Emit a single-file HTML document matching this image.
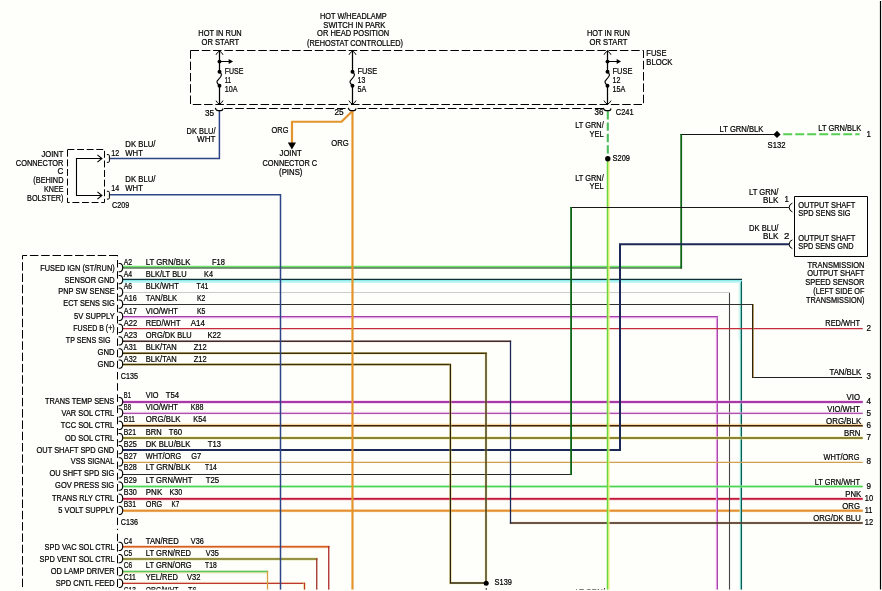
<!DOCTYPE html>
<html><head><meta charset="utf-8"><title>Wiring Diagram</title>
<style>
html,body{margin:0;padding:0;background:#fefefa;}
body{width:882px;height:591px;overflow:hidden;font-family:"Liberation Sans",sans-serif;}
svg{display:block;}
text{font-family:"Liberation Sans",sans-serif;}
</style></head>
<body>
<svg width="882" height="591" viewBox="0 0 882 591">
<rect x="0" y="0" width="882" height="591" fill="#fefefa"/>
<g id="wires" stroke-linecap="butt" stroke-linejoin="miter">
<path d="M122.5,498.9 H862.75" stroke="#f0a0b0" stroke-width="3.2" fill="none" opacity="0.5"/>
<path d="M122.5,498.9 H862.75" stroke="#c41838" stroke-width="1.9" fill="none"/>
<path d="M122.5,510.7 H862.75" stroke="#f8d090" stroke-width="3.2" fill="none" opacity="0.5"/>
<path d="M122.5,510.7 H862.75" stroke="#e49030" stroke-width="1.9" fill="none"/>
<path d="M716.4,316.6 V591" stroke="#f4a4f4" stroke-width="1.1" fill="none" />
<path d="M717.4,316.6 V591" stroke="#a044a4" stroke-width="1.1" fill="none" />
<path d="M729.5,292.5 V591" stroke="#444444" stroke-width="1.1" fill="none" />
<path d="M739.6,281 V340" stroke="#c4f6f2" stroke-width="2.0" fill="none" opacity="0.7"/>
<path d="M739.9,340 V591" stroke="#c4f6f2" stroke-width="1.2" fill="none" opacity="0.6"/>
<path d="M740.5,279.4 V591" stroke="#84d4cc" stroke-width="1.1" fill="none" />
<path d="M741.5,279.4 V591" stroke="#0c5c58" stroke-width="1.1" fill="none" />
<path d="M122.5,266.7 H682" stroke="#6fe46f" stroke-width="1.7" fill="none"/>
<path d="M122.5,268.0 H682" stroke="#0c3410" stroke-width="1.1" fill="none"/>
<path d="M122.5,281.6 H740.6" stroke="#c4f6f2" stroke-width="2.6" fill="none"/>
<path d="M122.5,280.5 H742" stroke="#8ceaea" stroke-width="1.6" fill="none"/>
<path d="M122.5,279.4 H742" stroke="#103038" stroke-width="1.1" fill="none"/>
<path d="M122.5,292.5 H730" stroke="#cccccc" stroke-width="1" fill="none"/>
<path d="M122.5,304.5 H753.4" stroke="#303030" stroke-width="1" fill="none"/>
<path d="M122.5,317.20000000000005 H718" stroke="#f0a0f0" stroke-width="2.4" fill="none" opacity="0.6"/>
<path d="M122.5,316.6 H718" stroke="#a440ac" stroke-width="1.2" fill="none"/>
<path d="M122.5,328.6 H862.75" stroke="#c42c3c" stroke-width="1.2" fill="none"/>
<path d="M122.5,341.25 H511.1" stroke="#f0c0a0" stroke-width="2.6" fill="none" opacity="0.4"/>
<path d="M122.5,341.25 H511.1" stroke="#3c2c30" stroke-width="1.3" fill="none"/>
<path d="M509.9,523 H862.75" stroke="#e8b070" stroke-width="2.6" fill="none" opacity="0.45"/>
<path d="M509.9,523 H862.75" stroke="#3c2820" stroke-width="1.4" fill="none"/>
<path d="M122.5,353.25 H486.8" stroke="#ecd868" stroke-width="2.7" fill="none" opacity="0.45"/>
<path d="M122.5,353.25 H486.8" stroke="#3c3008" stroke-width="1.3" fill="none"/>
<path d="M122.5,364.5 H451" stroke="#ecd868" stroke-width="2.7" fill="none" opacity="0.45"/>
<path d="M122.5,364.5 H451" stroke="#3c3008" stroke-width="1.3" fill="none"/>
<path d="M752.2,377.5 H862" stroke="#202020" stroke-width="1" fill="none"/>
<path d="M122.5,402 H862.75" stroke="#f4a8f4" stroke-width="3.6" fill="none" opacity="0.5"/>
<path d="M122.5,402 H862.75" stroke="#a43ca4" stroke-width="1.9" fill="none"/>
<path d="M122.5,413.09999999999997 H862.75" stroke="#f4b8f4" stroke-width="2.8" fill="none" opacity="0.5"/>
<path d="M122.5,413.4 H862.75" stroke="#ac54ac" stroke-width="1.2" fill="none"/>
<path d="M122.5,425.4 H862.75" stroke="#f4b860" stroke-width="3.2" fill="none" opacity="0.55"/>
<path d="M122.5,425.7 H862.75" stroke="#40240c" stroke-width="1.4" fill="none"/>
<path d="M122.5,438 H862.75" stroke="#ece890" stroke-width="3.4" fill="none" opacity="0.5"/>
<path d="M122.5,438 H862.75" stroke="#8c8434" stroke-width="1.8" fill="none"/>
<path d="M122.5,450 H620.9" stroke="#1c2858" stroke-width="1.9" fill="none"/>
<path d="M122.5,462.4 H862.75" stroke="#d0a050" stroke-width="1.1" fill="none"/>
<path d="M122.5,474.5 H572" stroke="#262626" stroke-width="1.0" fill="none"/>
<path d="M122.5,486.5 H862.75" stroke="#b4f0b4" stroke-width="3.2" fill="none" opacity="0.5"/>
<path d="M122.5,486.5 H862.75" stroke="#4cd454" stroke-width="1.7" fill="none"/>
<path d="M122.5,546.75 H329.4" stroke="#f0b080" stroke-width="3" fill="none" opacity="0.5"/>
<path d="M122.5,546.75 H329.4" stroke="#d85c20" stroke-width="1.6" fill="none"/>
<path d="M122.5,559 H317.4" stroke="#c8d070" stroke-width="3" fill="none" opacity="0.5"/>
<path d="M122.5,559 H317.4" stroke="#7c7420" stroke-width="1.6" fill="none"/>
<path d="M122.5,572.0 H268.1" stroke="#e8d890" stroke-width="3" fill="none" opacity="0.6"/>
<path d="M122.5,571.5 H268.1" stroke="#58c860" stroke-width="1.5" fill="none"/>
<path d="M122.5,583.0 H305.1" stroke="#f0e0a0" stroke-width="2.6" fill="none" opacity="0.5"/>
<path d="M122.5,583.4 H305.1" stroke="#c03434" stroke-width="1.2" fill="none"/>
<path d="M109.6,194.8 H280.5 V591" stroke="#2c4488" stroke-width="1.5" fill="none" />
<path d="M109.6,158.5 H219.4 V110.5" stroke="#2c4488" stroke-width="1.5" fill="none" />
<path d="M352.5,110.5 V591" stroke="#e4942c" stroke-width="2.2" fill="none" />
<path d="M352.5,111 L341.5,121.75 H292 V143" stroke="#e4942c" stroke-width="2.2" fill="none" stroke-linejoin="round"/>
<path d="M607.8,111 V155" stroke="#4cbc5c" stroke-width="2.1" fill="none" stroke-dasharray="8.4 3"/>
<path d="M608.9,161 V591" stroke="#f0f078" stroke-width="1.4" fill="none" />
<path d="M607.5,161 V591" stroke="#68d840" stroke-width="1.5" fill="none" />
<path d="M777,134.5 H680.4" stroke="#141414" stroke-width="1" fill="none" />
<path d="M681.2,134 V268.5" stroke="#0c6414" stroke-width="1.8" fill="none" />
<path d="M789,207.5 H570.3" stroke="#181818" stroke-width="1" fill="none" />
<path d="M571.1,207 V475" stroke="#0c6414" stroke-width="1.8" fill="none" />
<path d="M789,244.25 H620 V450.9" stroke="#1c2858" stroke-width="2" fill="none" />
<path d="M753.4,304.5 V377.5" stroke="#c8a050" stroke-width="1.0" fill="none" opacity="0.8"/>
<path d="M752.6,304 V378" stroke="#30240c" stroke-width="1.2" fill="none" />
<path d="M510.5,340.7 V523.6" stroke="#1c2858" stroke-width="1.3" fill="none" />
<path d="M486,352.7 V583" stroke="#ecd868" stroke-width="2.7" fill="none" opacity="0.45"/>
<path d="M450.4,364 V583 H486" stroke="#ecd868" stroke-width="2.7" fill="none" opacity="0.45"/>
<path d="M486,352.7 V583" stroke="#2c2408" stroke-width="1.3" fill="none" />
<path d="M486.3,588.3 V591" stroke="#181818" stroke-width="1.3" fill="none" />
<path d="M450.4,364 V583 H486" stroke="#2c2408" stroke-width="1.3" fill="none" />
<path d="M328.75,546 V591" stroke="#b02828" stroke-width="1.3" fill="none" />
<path d="M316.75,558.3 V591" stroke="#a03028" stroke-width="1.3" fill="none" />
<path d="M267.5,570.8 V591" stroke="#d8a040" stroke-width="1.3" fill="none" />
<path d="M304.5,582.8 V591" stroke="#f4ec70" stroke-width="2.6" fill="none" opacity="0.6"/>
<path d="M304.5,582.8 V591" stroke="#c03030" stroke-width="1.2" fill="none" />
<path d="M783.2,134.3 H859.6" stroke="#54d054" stroke-width="2.1" fill="none" stroke-dasharray="9 3"/>
</g>
<g id="art" stroke="#000" stroke-width="1" fill="none">
<path d="M190.5,50.5 H643.5 V104.5 H190.5 Z" stroke-dasharray="8.5 2.8"/>
<path d="M224,108.5 H347.5 M357.5,108.5 H603" stroke-dasharray="8.5 2.8"/>
<path d="M215.3,107.8 Q216.1,110.6 218.1,110.6 H221.1 Q222.5,110.6 223.1,108.5" stroke-width="1.15"/>
<path d="M348.3,107.8 Q349.1,110.6 351.1,110.6 H354.1 Q355.5,110.6 356.1,108.5" stroke-width="1.15"/>
<path d="M603.3,107.8 Q604.1,110.6 606.1,110.6 H609.1 Q610.5,110.6 611.1,108.5" stroke-width="1.15"/>
<path d="M219.5,50.5 V72 M219.5,86 V104.5" stroke-width="1.25"/>
<path d="M216.0,54.8 Q217.1,52.2 219.5,51 Q221.9,52.2 223.0,54.8"/>
<path d="M216.0,100.6 Q217.1,103 219.5,104.2 Q221.9,103 223.0,100.6"/>
<path d="M219.5,72 C221.9,73.4 221.8,75.4 220.5,77 L217.3,80.8 C216.3,82.4 217.9,84.2 219.5,85.6" stroke-width="1.15"/>
<circle cx="219.5" cy="71.8" r="1.95" fill="#000" stroke="none"/>
<circle cx="219.5" cy="85.8" r="1.95" fill="#000" stroke="none"/>
<circle cx="219.5" cy="61.6" r="1.95" fill="#000" stroke="none"/>
<path d="M219.5,61.5 H229.5"/>
<path d="M228.7,59 L233.1,61.5 L228.7,64 Z" fill="#000" stroke="none"/>
<path d="M352.5,50.5 V72 M352.5,86 V104.5" stroke-width="1.25"/>
<path d="M349.0,54.8 Q350.1,52.2 352.5,51 Q354.9,52.2 356.0,54.8"/>
<path d="M349.0,100.6 Q350.1,103 352.5,104.2 Q354.9,103 356.0,100.6"/>
<path d="M352.5,72 C354.9,73.4 354.8,75.4 353.5,77 L350.3,80.8 C349.3,82.4 350.9,84.2 352.5,85.6" stroke-width="1.15"/>
<circle cx="352.5" cy="71.8" r="1.95" fill="#000" stroke="none"/>
<circle cx="352.5" cy="85.8" r="1.95" fill="#000" stroke="none"/>
<path d="M607.5,50.5 V72 M607.5,86 V104.5" stroke-width="1.25"/>
<path d="M604.0,54.8 Q605.1,52.2 607.5,51 Q609.9,52.2 611.0,54.8"/>
<path d="M604.0,100.6 Q605.1,103 607.5,104.2 Q609.9,103 611.0,100.6"/>
<path d="M607.5,72 C609.9,73.4 609.8,75.4 608.5,77 L605.3,80.8 C604.3,82.4 605.9,84.2 607.5,85.6" stroke-width="1.15"/>
<circle cx="607.5" cy="71.8" r="1.95" fill="#000" stroke="none"/>
<circle cx="607.5" cy="85.8" r="1.95" fill="#000" stroke="none"/>
<circle cx="607.5" cy="61.6" r="1.95" fill="#000" stroke="none"/>
<path d="M607.5,61.5 H617.5"/>
<path d="M616.7,59 L621.1,61.5 L616.7,64 Z" fill="#000" stroke="none"/>
<path d="M287.8,142.5 H296 L291.9,149.5 Z" fill="#000" stroke="none"/>
<circle cx="607.8" cy="158.8" r="2.7" fill="#000" stroke="none"/>
<circle cx="486.2" cy="583.3" r="2.5" fill="#000" stroke="none"/>
<path d="M777,130.8 L780.6,134.4 L777,138 L773.4,134.4 Z" fill="#000" stroke="none"/>
<path d="M67.5,149.5 H104.5 V202.5 H67.5 Z" stroke-dasharray="6.9 2.7"/>
<path d="M101.8,158.5 H76.5 V195.5 H101.8" stroke-width="1.1"/>
<path d="M97.4,154.9 L101.9,158.5 L97.4,162.1 M97.4,191.9 L101.9,195.5 L97.4,199.1" stroke-width="1.1"/>
<path d="M106.9,154.6 H108.2 Q109.4,154.6 109.4,155.8 V161.2 Q109.4,162.4 108.2,162.4 H106.9"/>
<path d="M106.9,191.29999999999998 H108.2 Q109.4,191.29999999999998 109.4,192.5 V197.89999999999998 Q109.4,199.1 108.2,199.1 H106.9"/>
<path d="M794.5,196.5 H867.5 V256.5 H794.5 Z"/>
<path d="M792.4,203.1 Q789.2,204.1 789.2,207.5 Q789.2,210.9 792.4,211.9"/>
<path d="M792.4,239.85 Q789.2,240.85 789.2,244.25 Q789.2,247.65 792.4,248.65"/>
<path d="M117.5,255.5 H22.5 V591" stroke-dasharray="8.5 2.8"/>
<path d="M117.5,248.8 V530" stroke-dasharray="7.5 3.7"/>
<path d="M117.5,533.75 V541.25 M117.5,543.9 V551.6 M117.5,555.5 V563.3 M117.5,567.2 V575.3 M117.5,579.2 V587 M117.5,590.3 V591"/>
<rect x="116" y="248" width="3" height="7" fill="#fefefa" stroke="none"/>
<path d="M118.6,263.5 H120.2 Q122.7,264.0 122.7,267.6 Q122.7,271.20000000000005 120.2,271.70000000000005 H118.6" stroke-width="1.1"/>
<path d="M118.6,275.5 H120.2 Q122.7,276.0 122.7,279.6 Q122.7,283.20000000000005 120.2,283.70000000000005 H118.6" stroke-width="1.1"/>
<path d="M118.6,288.0 H120.2 Q122.7,288.5 122.7,292.1 Q122.7,295.70000000000005 120.2,296.20000000000005 H118.6" stroke-width="1.1"/>
<path d="M118.6,300.0 H120.2 Q122.7,300.5 122.7,304.1 Q122.7,307.70000000000005 120.2,308.20000000000005 H118.6" stroke-width="1.1"/>
<path d="M118.6,312.25 H120.2 Q122.7,312.75 122.7,316.35 Q122.7,319.95000000000005 120.2,320.45000000000005 H118.6" stroke-width="1.1"/>
<path d="M118.6,324.25 H120.2 Q122.7,324.75 122.7,328.35 Q122.7,331.95000000000005 120.2,332.45000000000005 H118.6" stroke-width="1.1"/>
<path d="M118.6,336.75 H120.2 Q122.7,337.25 122.7,340.85 Q122.7,344.45000000000005 120.2,344.95000000000005 H118.6" stroke-width="1.1"/>
<path d="M118.6,348.75 H120.2 Q122.7,349.25 122.7,352.85 Q122.7,356.45000000000005 120.2,356.95000000000005 H118.6" stroke-width="1.1"/>
<path d="M118.6,360.0 H120.2 Q122.7,360.5 122.7,364.1 Q122.7,367.70000000000005 120.2,368.20000000000005 H118.6" stroke-width="1.1"/>
<path d="M118.6,397.5 H120.2 Q122.7,398.0 122.7,401.6 Q122.7,405.20000000000005 120.2,405.70000000000005 H118.6" stroke-width="1.1"/>
<path d="M118.6,408.75 H120.2 Q122.7,409.25 122.7,412.85 Q122.7,416.45000000000005 120.2,416.95000000000005 H118.6" stroke-width="1.1"/>
<path d="M118.6,421.25 H120.2 Q122.7,421.75 122.7,425.35 Q122.7,428.95000000000005 120.2,429.45000000000005 H118.6" stroke-width="1.1"/>
<path d="M118.6,433.5 H120.2 Q122.7,434.0 122.7,437.6 Q122.7,441.20000000000005 120.2,441.70000000000005 H118.6" stroke-width="1.1"/>
<path d="M118.6,445.5 H120.2 Q122.7,446.0 122.7,449.6 Q122.7,453.20000000000005 120.2,453.70000000000005 H118.6" stroke-width="1.1"/>
<path d="M118.6,457.75 H120.2 Q122.7,458.25 122.7,461.85 Q122.7,465.45000000000005 120.2,465.95000000000005 H118.6" stroke-width="1.1"/>
<path d="M118.6,469.75 H120.2 Q122.7,470.25 122.7,473.85 Q122.7,477.45000000000005 120.2,477.95000000000005 H118.6" stroke-width="1.1"/>
<path d="M118.6,482.0 H120.2 Q122.7,482.5 122.7,486.1 Q122.7,489.70000000000005 120.2,490.20000000000005 H118.6" stroke-width="1.1"/>
<path d="M118.6,494.25 H120.2 Q122.7,494.75 122.7,498.35 Q122.7,501.95000000000005 120.2,502.45000000000005 H118.6" stroke-width="1.1"/>
<path d="M118.6,506.25 H120.2 Q122.7,506.75 122.7,510.35 Q122.7,513.95 120.2,514.45 H118.6" stroke-width="1.1"/>
<path d="M118.6,542.25 H120.2 Q122.7,542.75 122.7,546.35 Q122.7,549.95 120.2,550.45 H118.6" stroke-width="1.1"/>
<path d="M118.6,554.5 H120.2 Q122.7,555.0 122.7,558.6 Q122.7,562.2 120.2,562.7 H118.6" stroke-width="1.1"/>
<path d="M118.6,567.5 H120.2 Q122.7,568.0 122.7,571.6 Q122.7,575.2 120.2,575.7 H118.6" stroke-width="1.1"/>
<path d="M118.6,579.25 H120.2 Q122.7,579.75 122.7,583.35 Q122.7,586.95 120.2,587.45 H118.6" stroke-width="1.1"/>
</g>
<g id="txt" font-family="'Liberation Sans', sans-serif" fill="#000" stroke="#000" stroke-width="0.22" style="filter:grayscale(1)">
<text x="198.30" y="35.75" textLength="43.40" lengthAdjust="spacingAndGlyphs" font-size="8.3" >HOT IN RUN</text>
<text x="201.55" y="44.50" textLength="37.65" lengthAdjust="spacingAndGlyphs" font-size="8.3" >OR START</text>
<text x="320.05" y="18.75" textLength="66.65" lengthAdjust="spacingAndGlyphs" font-size="8.3" >HOT W/HEADLAMP</text>
<text x="323.30" y="27.50" textLength="62.15" lengthAdjust="spacingAndGlyphs" font-size="8.3" >SWITCH IN PARK</text>
<text x="317.05" y="36.25" textLength="72.15" lengthAdjust="spacingAndGlyphs" font-size="8.3" >OR HEAD POSITION</text>
<text x="307.05" y="46.25" textLength="95.90" lengthAdjust="spacingAndGlyphs" font-size="8.3" >(REHOSTAT CONTROLLED)</text>
<text x="587.05" y="35.75" textLength="42.90" lengthAdjust="spacingAndGlyphs" font-size="8.3" >HOT IN RUN</text>
<text x="589.55" y="44.50" textLength="37.90" lengthAdjust="spacingAndGlyphs" font-size="8.3" >OR START</text>
<text x="646.30" y="55.50" textLength="20.15" lengthAdjust="spacingAndGlyphs" font-size="8.3" >FUSE</text>
<text x="646.30" y="64.50" textLength="26.15" lengthAdjust="spacingAndGlyphs" font-size="8.3" >BLOCK</text>
<text x="224.75" y="73.75" textLength="18.70" lengthAdjust="spacingAndGlyphs" font-size="8.3" >FUSE</text>
<text x="224.85" y="82.75" textLength="6.20" lengthAdjust="spacingAndGlyphs" font-size="8.3" >11</text>
<text x="224.85" y="91.75" textLength="12.80" lengthAdjust="spacingAndGlyphs" font-size="8.3" >10A</text>
<text x="357.55" y="73.75" textLength="19.65" lengthAdjust="spacingAndGlyphs" font-size="8.3" >FUSE</text>
<text x="357.55" y="82.75" textLength="7.70" lengthAdjust="spacingAndGlyphs" font-size="8.3" >13</text>
<text x="357.55" y="91.75" textLength="8.70" lengthAdjust="spacingAndGlyphs" font-size="8.3" >5A</text>
<text x="612.55" y="73.75" textLength="19.90" lengthAdjust="spacingAndGlyphs" font-size="8.3" >FUSE</text>
<text x="612.55" y="82.75" textLength="7.90" lengthAdjust="spacingAndGlyphs" font-size="8.3" >12</text>
<text x="612.55" y="91.75" textLength="12.90" lengthAdjust="spacingAndGlyphs" font-size="8.3" >15A</text>
<text x="205.05" y="115.50" textLength="9.15" lengthAdjust="spacingAndGlyphs" font-size="8.3" >35</text>
<text x="334.55" y="115.00" textLength="9.15" lengthAdjust="spacingAndGlyphs" font-size="8.3" >25</text>
<text x="594.55" y="115.00" textLength="8.90" lengthAdjust="spacingAndGlyphs" font-size="8.3" >36</text>
<text x="615.80" y="114.50" textLength="17.90" lengthAdjust="spacingAndGlyphs" font-size="8.3" >C241</text>
<text x="186.55" y="133.75" textLength="28.90" lengthAdjust="spacingAndGlyphs" font-size="8.3" >DK BLU/</text>
<text x="197.05" y="142.00" textLength="18.40" lengthAdjust="spacingAndGlyphs" font-size="8.3" >WHT</text>
<text x="271.55" y="133.25" textLength="16.90" lengthAdjust="spacingAndGlyphs" font-size="8.3" >ORG</text>
<text x="331.30" y="145.50" textLength="17.40" lengthAdjust="spacingAndGlyphs" font-size="8.3" >ORG</text>
<text x="279.55" y="156.25" textLength="22.15" lengthAdjust="spacingAndGlyphs" font-size="8.3" >JOINT</text>
<text x="262.55" y="165.50" textLength="54.65" lengthAdjust="spacingAndGlyphs" font-size="8.3" >CONNECTOR C</text>
<text x="279.05" y="174.50" textLength="23.40" lengthAdjust="spacingAndGlyphs" font-size="8.3" >(PINS)</text>
<text x="575.30" y="128.00" textLength="28.40" lengthAdjust="spacingAndGlyphs" font-size="8.3" >LT GRN/</text>
<text x="589.55" y="136.75" textLength="14.15" lengthAdjust="spacingAndGlyphs" font-size="8.3" >YEL</text>
<text x="612.55" y="161.25" textLength="17.40" lengthAdjust="spacingAndGlyphs" font-size="8.3" >S209</text>
<text x="575.30" y="180.50" textLength="28.40" lengthAdjust="spacingAndGlyphs" font-size="8.3" >LT GRN/</text>
<text x="589.55" y="189.25" textLength="14.15" lengthAdjust="spacingAndGlyphs" font-size="8.3" >YEL</text>
<text x="719.55" y="131.75" textLength="43.90" lengthAdjust="spacingAndGlyphs" font-size="8.3" >LT GRN/BLK</text>
<text x="818.30" y="131.25" textLength="42.90" lengthAdjust="spacingAndGlyphs" font-size="8.3" >LT GRN/BLK</text>
<text x="767.55" y="148.00" textLength="17.90" lengthAdjust="spacingAndGlyphs" font-size="8.3" >S132</text>
<text x="866.55" y="137.00" textLength="4.40" lengthAdjust="spacingAndGlyphs" font-size="8.3" >1</text>
<text x="749.05" y="194.50" textLength="29.40" lengthAdjust="spacingAndGlyphs" font-size="8.3" >LT GRN/</text>
<text x="763.05" y="202.50" textLength="15.40" lengthAdjust="spacingAndGlyphs" font-size="8.3" >BLK</text>
<text x="784.55" y="202.00" textLength="4.40" lengthAdjust="spacingAndGlyphs" font-size="8.3" >1</text>
<text x="749.05" y="230.50" textLength="29.40" lengthAdjust="spacingAndGlyphs" font-size="8.3" >DK BLU/</text>
<text x="763.05" y="239.00" textLength="15.40" lengthAdjust="spacingAndGlyphs" font-size="8.3" >BLK</text>
<text x="784.05" y="238.50" textLength="5.40" lengthAdjust="spacingAndGlyphs" font-size="8.3" >2</text>
<text x="798.30" y="207.50" textLength="57.15" lengthAdjust="spacingAndGlyphs" font-size="8.3" >OUTPUT SHAFT</text>
<text x="798.30" y="215.50" textLength="52.15" lengthAdjust="spacingAndGlyphs" font-size="8.3" >SPD SENS SIG</text>
<text x="798.30" y="240.50" textLength="57.15" lengthAdjust="spacingAndGlyphs" font-size="8.3" >OUTPUT SHAFT</text>
<text x="798.30" y="249.00" textLength="55.15" lengthAdjust="spacingAndGlyphs" font-size="8.3" >SPD SENS GND</text>
<text x="807.55" y="267.60" textLength="56.90" lengthAdjust="spacingAndGlyphs" font-size="8.3" >TRANSMISSION</text>
<text x="807.30" y="276.35" textLength="57.15" lengthAdjust="spacingAndGlyphs" font-size="8.3" >OUTPUT SHAFT</text>
<text x="805.30" y="285.10" textLength="59.15" lengthAdjust="spacingAndGlyphs" font-size="8.3" >SPEED SENSOR</text>
<text x="813.30" y="293.85" textLength="51.15" lengthAdjust="spacingAndGlyphs" font-size="8.3" >(LEFT SIDE OF</text>
<text x="806.05" y="302.60" textLength="58.40" lengthAdjust="spacingAndGlyphs" font-size="8.3" >TRANSMISSION)</text>
<text x="825.30" y="326.25" textLength="34.65" lengthAdjust="spacingAndGlyphs" font-size="8.3" >RED/WHT</text>
<text x="866.55" y="330.50" textLength="4.50" lengthAdjust="spacingAndGlyphs" font-size="8.3" >2</text>
<text x="829.55" y="374.50" textLength="31.65" lengthAdjust="spacingAndGlyphs" font-size="8.3" >TAN/BLK</text>
<text x="866.55" y="379.00" textLength="4.50" lengthAdjust="spacingAndGlyphs" font-size="8.3" >3</text>
<text x="846.55" y="399.50" textLength="13.40" lengthAdjust="spacingAndGlyphs" font-size="8.3" >VIO</text>
<text x="866.55" y="403.75" textLength="4.50" lengthAdjust="spacingAndGlyphs" font-size="8.3" >4</text>
<text x="827.30" y="411.75" textLength="32.65" lengthAdjust="spacingAndGlyphs" font-size="8.3" >VIO/WHT</text>
<text x="866.55" y="415.50" textLength="4.50" lengthAdjust="spacingAndGlyphs" font-size="8.3" >5</text>
<text x="826.05" y="423.75" textLength="35.15" lengthAdjust="spacingAndGlyphs" font-size="8.3" >ORG/BLK</text>
<text x="866.55" y="427.50" textLength="4.50" lengthAdjust="spacingAndGlyphs" font-size="8.3" >6</text>
<text x="844.05" y="435.50" textLength="16.40" lengthAdjust="spacingAndGlyphs" font-size="8.3" >BRN</text>
<text x="866.55" y="440.00" textLength="4.50" lengthAdjust="spacingAndGlyphs" font-size="8.3" >7</text>
<text x="823.55" y="459.50" textLength="35.90" lengthAdjust="spacingAndGlyphs" font-size="8.3" >WHT/ORG</text>
<text x="866.55" y="464.25" textLength="4.50" lengthAdjust="spacingAndGlyphs" font-size="8.3" >8</text>
<text x="814.80" y="484.50" textLength="45.15" lengthAdjust="spacingAndGlyphs" font-size="8.3" >LT GRN/WHT</text>
<text x="866.55" y="488.75" textLength="4.50" lengthAdjust="spacingAndGlyphs" font-size="8.3" >9</text>
<text x="845.30" y="496.75" textLength="15.90" lengthAdjust="spacingAndGlyphs" font-size="8.3" >PNK</text>
<text x="864.80" y="500.75" textLength="8.40" lengthAdjust="spacingAndGlyphs" font-size="8.3" >10</text>
<text x="842.30" y="508.75" textLength="17.65" lengthAdjust="spacingAndGlyphs" font-size="8.3" >ORG</text>
<text x="864.80" y="512.50" textLength="7.65" lengthAdjust="spacingAndGlyphs" font-size="8.3" >11</text>
<text x="813.30" y="520.50" textLength="47.40" lengthAdjust="spacingAndGlyphs" font-size="8.3" >ORG/DK BLU</text>
<text x="864.80" y="525.00" textLength="8.40" lengthAdjust="spacingAndGlyphs" font-size="8.3" >12</text>
<text x="41.55" y="157.00" textLength="21.90" lengthAdjust="spacingAndGlyphs" font-size="8.3" >JOINT</text>
<text x="15.80" y="165.50" textLength="47.65" lengthAdjust="spacingAndGlyphs" font-size="8.3" >CONNECTOR</text>
<text x="57.55" y="174.25" textLength="5.90" lengthAdjust="spacingAndGlyphs" font-size="8.3" >C</text>
<text x="33.30" y="182.50" textLength="30.15" lengthAdjust="spacingAndGlyphs" font-size="8.3" >(BEHIND</text>
<text x="44.05" y="191.75" textLength="19.40" lengthAdjust="spacingAndGlyphs" font-size="8.3" >KNEE</text>
<text x="27.05" y="200.50" textLength="36.40" lengthAdjust="spacingAndGlyphs" font-size="8.3" >BOLSTER)</text>
<text x="111.30" y="155.75" textLength="7.90" lengthAdjust="spacingAndGlyphs" font-size="8.3" >12</text>
<text x="125.30" y="146.75" textLength="30.15" lengthAdjust="spacingAndGlyphs" font-size="8.3" >DK BLU/</text>
<text x="125.30" y="155.75" textLength="17.65" lengthAdjust="spacingAndGlyphs" font-size="8.3" >WHT</text>
<text x="111.30" y="190.75" textLength="7.90" lengthAdjust="spacingAndGlyphs" font-size="8.3" >14</text>
<text x="125.30" y="181.75" textLength="30.15" lengthAdjust="spacingAndGlyphs" font-size="8.3" >DK BLU/</text>
<text x="125.30" y="190.75" textLength="17.65" lengthAdjust="spacingAndGlyphs" font-size="8.3" >WHT</text>
<text x="112.05" y="207.50" textLength="17.15" lengthAdjust="spacingAndGlyphs" font-size="8.3" >C209</text>
<text x="123.80" y="264.65" textLength="8.40" lengthAdjust="spacingAndGlyphs" font-size="8.3" >A2</text>
<text x="145.80" y="264.65" textLength="44.65" lengthAdjust="spacingAndGlyphs" font-size="8.3" >LT GRN/BLK</text>
<text x="212.05" y="264.65" textLength="12.90" lengthAdjust="spacingAndGlyphs" font-size="8.3" >F18</text>
<text x="123.80" y="277.15" textLength="8.40" lengthAdjust="spacingAndGlyphs" font-size="8.3" >A4</text>
<text x="145.80" y="277.15" textLength="40.90" lengthAdjust="spacingAndGlyphs" font-size="8.3" >BLK/LT BLU</text>
<text x="204.05" y="277.15" textLength="8.90" lengthAdjust="spacingAndGlyphs" font-size="8.3" >K4</text>
<text x="123.80" y="289.15" textLength="8.40" lengthAdjust="spacingAndGlyphs" font-size="8.3" >A6</text>
<text x="145.80" y="289.15" textLength="32.90" lengthAdjust="spacingAndGlyphs" font-size="8.3" >BLK/WHT</text>
<text x="196.55" y="289.15" textLength="11.90" lengthAdjust="spacingAndGlyphs" font-size="8.3" >T41</text>
<text x="123.80" y="301.15" textLength="12.90" lengthAdjust="spacingAndGlyphs" font-size="8.3" >A16</text>
<text x="145.80" y="301.15" textLength="31.40" lengthAdjust="spacingAndGlyphs" font-size="8.3" >TAN/BLK</text>
<text x="197.05" y="301.15" textLength="8.40" lengthAdjust="spacingAndGlyphs" font-size="8.3" >K2</text>
<text x="123.80" y="313.65" textLength="12.90" lengthAdjust="spacingAndGlyphs" font-size="8.3" >A17</text>
<text x="145.80" y="313.65" textLength="32.15" lengthAdjust="spacingAndGlyphs" font-size="8.3" >VIO/WHT</text>
<text x="197.05" y="313.65" textLength="8.40" lengthAdjust="spacingAndGlyphs" font-size="8.3" >K5</text>
<text x="123.80" y="325.90" textLength="13.40" lengthAdjust="spacingAndGlyphs" font-size="8.3" >A22</text>
<text x="145.80" y="325.90" textLength="34.65" lengthAdjust="spacingAndGlyphs" font-size="8.3" >RED/WHT</text>
<text x="190.80" y="325.90" textLength="14.15" lengthAdjust="spacingAndGlyphs" font-size="8.3" >A14</text>
<text x="123.80" y="337.90" textLength="13.40" lengthAdjust="spacingAndGlyphs" font-size="8.3" >A23</text>
<text x="145.80" y="337.90" textLength="45.90" lengthAdjust="spacingAndGlyphs" font-size="8.3" >ORG/DK BLU</text>
<text x="207.55" y="337.90" textLength="13.40" lengthAdjust="spacingAndGlyphs" font-size="8.3" >K22</text>
<text x="123.80" y="349.65" textLength="12.90" lengthAdjust="spacingAndGlyphs" font-size="8.3" >A31</text>
<text x="145.80" y="349.65" textLength="30.90" lengthAdjust="spacingAndGlyphs" font-size="8.3" >BLK/TAN</text>
<text x="193.80" y="349.65" textLength="12.90" lengthAdjust="spacingAndGlyphs" font-size="8.3" >Z12</text>
<text x="123.80" y="361.65" textLength="12.90" lengthAdjust="spacingAndGlyphs" font-size="8.3" >A32</text>
<text x="145.80" y="361.65" textLength="30.90" lengthAdjust="spacingAndGlyphs" font-size="8.3" >BLK/TAN</text>
<text x="193.80" y="361.65" textLength="12.90" lengthAdjust="spacingAndGlyphs" font-size="8.3" >Z12</text>
<text x="123.80" y="398.40" textLength="7.15" lengthAdjust="spacingAndGlyphs" font-size="8.3" >B1</text>
<text x="145.80" y="398.40" textLength="12.65" lengthAdjust="spacingAndGlyphs" font-size="8.3" >VIO</text>
<text x="165.80" y="398.40" textLength="13.40" lengthAdjust="spacingAndGlyphs" font-size="8.3" >T54</text>
<text x="123.80" y="410.40" textLength="7.15" lengthAdjust="spacingAndGlyphs" font-size="8.3" >B8</text>
<text x="145.80" y="410.40" textLength="32.15" lengthAdjust="spacingAndGlyphs" font-size="8.3" >VIO/WHT</text>
<text x="190.80" y="410.40" textLength="12.65" lengthAdjust="spacingAndGlyphs" font-size="8.3" >K88</text>
<text x="123.80" y="422.15" textLength="11.15" lengthAdjust="spacingAndGlyphs" font-size="8.3" >B11</text>
<text x="145.80" y="422.15" textLength="34.65" lengthAdjust="spacingAndGlyphs" font-size="8.3" >ORG/BLK</text>
<text x="193.30" y="422.15" textLength="12.90" lengthAdjust="spacingAndGlyphs" font-size="8.3" >K54</text>
<text x="123.80" y="434.65" textLength="12.15" lengthAdjust="spacingAndGlyphs" font-size="8.3" >B21</text>
<text x="145.80" y="434.65" textLength="15.90" lengthAdjust="spacingAndGlyphs" font-size="8.3" >BRN</text>
<text x="168.80" y="434.65" textLength="13.40" lengthAdjust="spacingAndGlyphs" font-size="8.3" >T60</text>
<text x="123.80" y="446.65" textLength="12.90" lengthAdjust="spacingAndGlyphs" font-size="8.3" >B25</text>
<text x="145.80" y="446.65" textLength="44.65" lengthAdjust="spacingAndGlyphs" font-size="8.3" >DK BLU/BLK</text>
<text x="207.80" y="446.65" textLength="13.15" lengthAdjust="spacingAndGlyphs" font-size="8.3" >T13</text>
<text x="123.80" y="458.65" textLength="12.90" lengthAdjust="spacingAndGlyphs" font-size="8.3" >B27</text>
<text x="145.80" y="458.65" textLength="35.40" lengthAdjust="spacingAndGlyphs" font-size="8.3" >WHT/ORG</text>
<text x="191.30" y="458.65" textLength="9.90" lengthAdjust="spacingAndGlyphs" font-size="8.3" >G7</text>
<text x="123.80" y="470.40" textLength="12.90" lengthAdjust="spacingAndGlyphs" font-size="8.3" >B28</text>
<text x="145.80" y="470.40" textLength="44.65" lengthAdjust="spacingAndGlyphs" font-size="8.3" >LT GRN/BLK</text>
<text x="205.05" y="470.40" textLength="11.65" lengthAdjust="spacingAndGlyphs" font-size="8.3" >T14</text>
<text x="123.80" y="483.40" textLength="12.90" lengthAdjust="spacingAndGlyphs" font-size="8.3" >B29</text>
<text x="145.80" y="483.40" textLength="46.65" lengthAdjust="spacingAndGlyphs" font-size="8.3" >LT GRN/WHT</text>
<text x="205.80" y="483.40" textLength="13.40" lengthAdjust="spacingAndGlyphs" font-size="8.3" >T25</text>
<text x="123.80" y="495.40" textLength="12.90" lengthAdjust="spacingAndGlyphs" font-size="8.3" >B30</text>
<text x="145.80" y="495.40" textLength="16.40" lengthAdjust="spacingAndGlyphs" font-size="8.3" >PNK</text>
<text x="169.55" y="495.40" textLength="12.65" lengthAdjust="spacingAndGlyphs" font-size="8.3" >K30</text>
<text x="123.80" y="507.40" textLength="12.15" lengthAdjust="spacingAndGlyphs" font-size="8.3" >B31</text>
<text x="145.80" y="507.40" textLength="16.40" lengthAdjust="spacingAndGlyphs" font-size="8.3" >ORG</text>
<text x="171.55" y="507.40" textLength="7.65" lengthAdjust="spacingAndGlyphs" font-size="8.3" >K7</text>
<text x="123.80" y="543.65" textLength="8.40" lengthAdjust="spacingAndGlyphs" font-size="8.3" >C4</text>
<text x="145.80" y="543.65" textLength="32.90" lengthAdjust="spacingAndGlyphs" font-size="8.3" >TAN/RED</text>
<text x="190.80" y="543.65" textLength="12.90" lengthAdjust="spacingAndGlyphs" font-size="8.3" >V36</text>
<text x="123.80" y="555.90" textLength="8.40" lengthAdjust="spacingAndGlyphs" font-size="8.3" >C5</text>
<text x="145.80" y="555.90" textLength="45.15" lengthAdjust="spacingAndGlyphs" font-size="8.3" >LT GRN/RED</text>
<text x="205.80" y="555.90" textLength="12.90" lengthAdjust="spacingAndGlyphs" font-size="8.3" >V35</text>
<text x="123.80" y="568.40" textLength="8.40" lengthAdjust="spacingAndGlyphs" font-size="8.3" >C6</text>
<text x="145.80" y="568.40" textLength="45.90" lengthAdjust="spacingAndGlyphs" font-size="8.3" >LT GRN/ORG</text>
<text x="205.05" y="568.40" textLength="11.65" lengthAdjust="spacingAndGlyphs" font-size="8.3" >T18</text>
<text x="123.80" y="580.40" textLength="12.15" lengthAdjust="spacingAndGlyphs" font-size="8.3" >C11</text>
<text x="145.80" y="580.40" textLength="32.15" lengthAdjust="spacingAndGlyphs" font-size="8.3" >YEL/RED</text>
<text x="187.05" y="580.40" textLength="13.40" lengthAdjust="spacingAndGlyphs" font-size="8.3" >V32</text>
<text x="123.80" y="593.00" textLength="12.15" lengthAdjust="spacingAndGlyphs" font-size="8.3" >C13</text>
<text x="145.80" y="593.00" textLength="32.65" lengthAdjust="spacingAndGlyphs" font-size="8.3" >ORG/WHT</text>
<text x="188.05" y="593.00" textLength="8.40" lengthAdjust="spacingAndGlyphs" font-size="8.3" >T6</text>
<text x="120.80" y="379.25" textLength="17.15" lengthAdjust="spacingAndGlyphs" font-size="8.3" >C135</text>
<text x="120.80" y="525.00" textLength="17.15" lengthAdjust="spacingAndGlyphs" font-size="8.3" >C136</text>
<text x="40.30" y="270.50" textLength="74.40" lengthAdjust="spacingAndGlyphs" font-size="8.3" >FUSED IGN (ST/RUN)</text>
<text x="64.55" y="282.50" textLength="50.15" lengthAdjust="spacingAndGlyphs" font-size="8.3" >SENSOR GND</text>
<text x="58.30" y="294.25" textLength="56.40" lengthAdjust="spacingAndGlyphs" font-size="8.3" >PNP SW SENSE</text>
<text x="63.30" y="306.25" textLength="51.40" lengthAdjust="spacingAndGlyphs" font-size="8.3" >ECT SENS SIG</text>
<text x="74.05" y="318.75" textLength="40.65" lengthAdjust="spacingAndGlyphs" font-size="8.3" >5V SUPPLY</text>
<text x="73.30" y="330.50" textLength="41.40" lengthAdjust="spacingAndGlyphs" font-size="8.3" >FUSED B (+)</text>
<text x="65.80" y="343.00" textLength="44.65" lengthAdjust="spacingAndGlyphs" font-size="8.3" >TP SENS SIG</text>
<text x="97.55" y="355.00" textLength="17.15" lengthAdjust="spacingAndGlyphs" font-size="8.3" >GND</text>
<text x="97.55" y="367.00" textLength="17.15" lengthAdjust="spacingAndGlyphs" font-size="8.3" >GND</text>
<text x="45.05" y="403.75" textLength="69.15" lengthAdjust="spacingAndGlyphs" font-size="8.3" >TRANS TEMP SENS</text>
<text x="61.55" y="415.50" textLength="52.65" lengthAdjust="spacingAndGlyphs" font-size="8.3" >VAR SOL CTRL</text>
<text x="60.80" y="428.25" textLength="53.40" lengthAdjust="spacingAndGlyphs" font-size="8.3" >TCC SOL CTRL</text>
<text x="65.05" y="440.50" textLength="49.15" lengthAdjust="spacingAndGlyphs" font-size="8.3" >OD SOL CTRL</text>
<text x="36.55" y="452.50" textLength="77.65" lengthAdjust="spacingAndGlyphs" font-size="8.3" >OUT SHAFT SPD GND</text>
<text x="70.80" y="464.25" textLength="43.40" lengthAdjust="spacingAndGlyphs" font-size="8.3" >VSS SIGNAL</text>
<text x="49.55" y="476.25" textLength="64.65" lengthAdjust="spacingAndGlyphs" font-size="8.3" >OU SHFT SPD SIG</text>
<text x="55.05" y="488.25" textLength="59.15" lengthAdjust="spacingAndGlyphs" font-size="8.3" >GOV PRESS SIG</text>
<text x="52.05" y="500.50" textLength="62.15" lengthAdjust="spacingAndGlyphs" font-size="8.3" >TRANS RLY CTRL</text>
<text x="58.30" y="513.25" textLength="55.90" lengthAdjust="spacingAndGlyphs" font-size="8.3" >5 VOLT SUPPLY</text>
<text x="44.55" y="550.00" textLength="70.15" lengthAdjust="spacingAndGlyphs" font-size="8.3" >SPD VAC SOL CTRL</text>
<text x="39.55" y="561.75" textLength="75.15" lengthAdjust="spacingAndGlyphs" font-size="8.3" >SPD VENT SOL CTRL</text>
<text x="50.80" y="573.75" textLength="63.90" lengthAdjust="spacingAndGlyphs" font-size="8.3" >OD LAMP DRIVER</text>
<text x="55.80" y="585.75" textLength="58.90" lengthAdjust="spacingAndGlyphs" font-size="8.3" >SPD CNTL FEED</text>
<text x="494.55" y="585.00" textLength="17.40" lengthAdjust="spacingAndGlyphs" font-size="8.3" >S139</text>
<text x="575.55" y="595.00" textLength="29.20" lengthAdjust="spacingAndGlyphs" font-size="8.3" >LT GRN/</text>
</g>
<rect x="0" y="589.6" width="882" height="1.4" fill="#fefefa"/>
<path d="M880.5,1 V589.5" stroke="#000" stroke-width="1.2" fill="none"/>
</svg>
</body></html>
